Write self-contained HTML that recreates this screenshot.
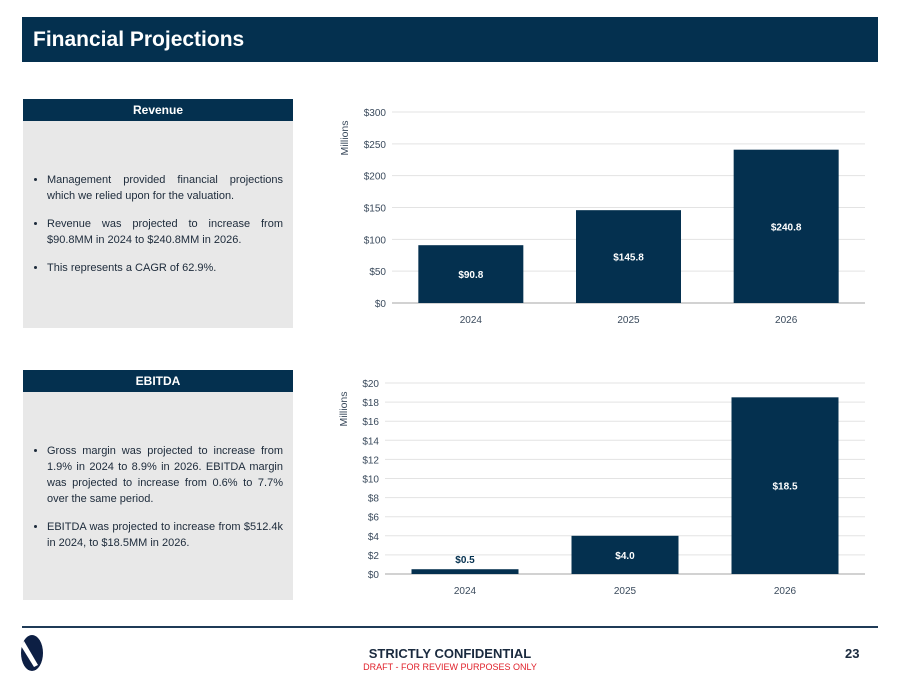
<!DOCTYPE html>
<html><head><meta charset="utf-8"><style>
body{margin:0;width:900px;height:675px;background:#fff;font-family:"Liberation Sans",sans-serif;position:relative;overflow:hidden}
.abs{position:absolute}
.hdr{left:22px;top:17px;width:856px;height:45px;background:#04304f;color:#fff;font-weight:bold;font-size:21px;line-height:45px;box-sizing:border-box;padding-left:11px}
.ph{left:23px;width:270px;height:22px;background:#04304f;color:#fff;font-weight:bold;font-size:12px;text-align:center;line-height:22px}
.pb{left:23px;width:270px;background:#e8e8e8;font-size:11px;color:#1c2a3a;box-sizing:border-box;padding:0 10px 0 10px}
.pb ul{margin:0;padding-left:14px}
.pb li{margin-bottom:12px;line-height:16px;text-align:justify}
svg text{font-family:"Liberation Sans",sans-serif}
</style></head><body>
<div class="abs hdr">Financial Projections</div>
<div class="abs ph" style="top:99px">Revenue</div>
<div class="abs pb" style="top:121px;height:207px;padding-top:51px"><ul>
<li>Management provided financial projections which we relied upon for the valuation.</li>
<li>Revenue was projected to increase from $90.8MM in 2024 to $240.8MM in 2026.</li>
<li>This represents a CAGR of 62.9%.</li></ul></div>
<div class="abs ph" style="top:370px">EBITDA</div>
<div class="abs pb" style="top:392px;height:208px;padding-top:51px"><ul>
<li>Gross margin was projected to increase from 1.9% in 2024 to 8.9% in 2026. EBITDA margin was projected to increase from 0.6% to 7.7% over the same period.</li>
<li>EBITDA was projected to increase from $512.4k in 2024, to $18.5MM in 2026.</li></ul></div>
<svg class="abs" style="left:0;top:0" width="900" height="675" id="charts"></svg>
<div class="abs" style="left:22px;top:626px;width:856px;height:2px;background:#1f3b57"></div>
<svg class="abs" style="left:12px;top:633px" width="52" height="40">
<ellipse cx="20" cy="20" rx="11" ry="18" fill="#0d1f44"/><path d="M12 8 L26 32 L22 34 L9 13Z" fill="#fff"/></svg>
<div class="abs" style="left:0;width:900px;top:646px;text-align:center;font-weight:bold;font-size:13px;color:#1a2a3e">STRICTLY CONFIDENTIAL</div>
<div class="abs" style="left:0;width:900px;top:662px;text-align:center;font-size:9px;color:#e0202a">DRAFT - FOR REVIEW PURPOSES ONLY</div>
<div class="abs" style="left:845px;top:646px;font-weight:bold;font-size:13px;color:#1a2a3e">23</div>
<script>
const categories=["2024","2025","2026"];
const revenueValues=[90.8,145.8,240.8];
const revenueTicks=[0,50,100,150,200,250,300];
const ebitdaValues=[0.5,4.0,18.5];
const ebitdaTicks=[0,2,4,6,8,10,12,14,16,18,20];
const NS="http://www.w3.org/2000/svg";
const svg=document.getElementById('charts');
function mk(t,a){const e=document.createElementNS(NS,t);for(const k in a)e.setAttribute(k,a[k]);svg.appendChild(e);return e;}
function chart(name,vals,ticks,x0,x1,y0,y1,bw,titleX,minInside){
 const max=ticks[ticks.length-1];
 const ys=v=>y0-(v/max)*(y0-y1);
 const cw=(x1-x0)/categories.length;
 ticks.forEach(t=>{
  const l=mk('line',{x1:x0,x2:x1,y1:ys(t),y2:ys(t),stroke:t===0?'#a6a6a6':'#e3e3e3','stroke-width':1});
  
  const tx=mk('text',{x:x0-6,y:ys(t)+4,'text-anchor':'end','font-size':10,fill:'#3a4a5c'});tx.textContent='$'+t;
  
 });
 const yt=mk('text',{x:0,y:0,transform:`translate(${titleX},${y1+26}) rotate(-90)`,'text-anchor':'middle','font-size':10.5,fill:'#3a4a5c'});yt.textContent='Millions';
 
 vals.forEach((v,i)=>{
  const cx=x0+cw*(i+0.5);
  const r=mk('rect',{x:cx-bw/2,y:ys(v),width:bw,height:y0-ys(v),fill:'#04304f'});
  
  const h=y0-ys(v);const inside=h>minInside;
  const lb=mk('text',{x:cx,y:inside?ys(v)+h/2+4:ys(v)-6,'text-anchor':'middle','font-size':10,'font-weight':'bold',fill:inside?'#fff':'#04304f'});lb.textContent='$'+v.toFixed(1);
  
  const c=mk('text',{x:cx,y:y0+20,'text-anchor':'middle','font-size':10,fill:'#3a4a5c'});c.textContent=categories[i];
  
 });
}
chart('revenue',revenueValues,revenueTicks,392,865,303,112,105,348,15);
chart('ebitda',ebitdaValues,ebitdaTicks,385,865,574,383,107,347,15);
</script>
</body></html>
